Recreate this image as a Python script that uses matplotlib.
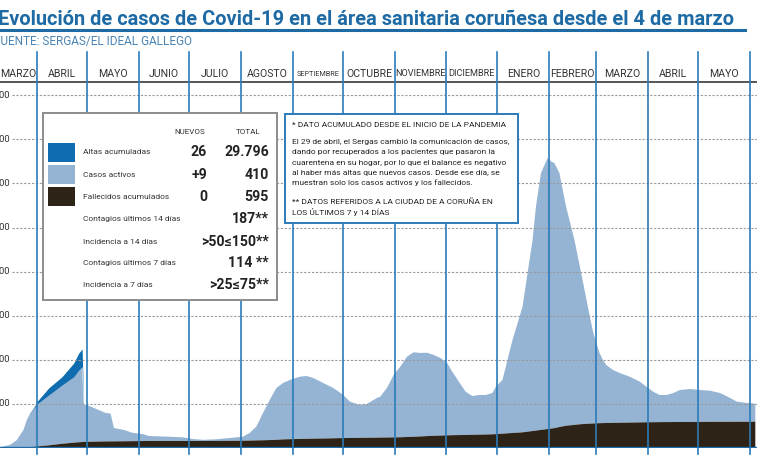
import numpy as np
import pandas as pd
import matplotlib
matplotlib.use("Agg")
import matplotlib.pyplot as plt
from matplotlib import transforms, font_manager
from matplotlib.patches import Rectangle

# ---- data ----
fechas = [
    "2020-03-04", "2020-03-10", "2020-03-16", "2020-03-20", "2020-03-24", "2020-03-26",
    "2020-03-28", "2020-03-30", "2020-04-01", "2020-04-08", "2020-04-16", "2020-04-23",
    "2020-04-26", "2020-04-28", "2020-04-29", "2020-05-01", "2020-05-08", "2020-05-12",
    "2020-05-15", "2020-05-17", "2020-05-23", "2020-05-28", "2020-06-03", "2020-06-07",
    "2020-06-19", "2020-06-27", "2020-07-03", "2020-07-09", "2020-07-17", "2020-07-27",
    "2020-08-02", "2020-08-06", "2020-08-10", "2020-08-14", "2020-08-18", "2020-08-22",
    "2020-08-26", "2020-08-30", "2020-09-05", "2020-09-09", "2020-09-13", "2020-09-19",
    "2020-09-25", "2020-10-01", "2020-10-05", "2020-10-11", "2020-10-15", "2020-10-21",
    "2020-10-23", "2020-10-27", "2020-10-31", "2020-11-04", "2020-11-08", "2020-11-12",
    "2020-11-16", "2020-11-20", "2020-11-24", "2020-11-28", "2020-12-02", "2020-12-05",
    "2020-12-09", "2020-12-13", "2020-12-17", "2020-12-21", "2020-12-25", "2020-12-29",
    "2020-12-31", "2021-01-04", "2021-01-06", "2021-01-08", "2021-01-10", "2021-01-12",
    "2021-01-14", "2021-01-16", "2021-01-19", "2021-01-22", "2021-01-24", "2021-01-27",
    "2021-01-31", "2021-02-02", "2021-02-04", "2021-02-07", "2021-02-11", "2021-02-16",
    "2021-02-20", "2021-02-24", "2021-02-27", "2021-03-01", "2021-03-03", "2021-03-05",
    "2021-03-07", "2021-03-11", "2021-03-15", "2021-03-21", "2021-03-27", "2021-03-31",
    "2021-04-04", "2021-04-08", "2021-04-12", "2021-04-16", "2021-04-20", "2021-04-26",
    "2021-05-02", "2021-05-08", "2021-05-14", "2021-05-20", "2021-05-24", "2021-05-30",
    "2021-06-04",
]
activos = [
    0, 20, 68, 175, 398, 617, 768, 856, 963, 1142, 1334, 1497,
    1639, 1709, 837, 835, 715, 647, 631, 305, 258, 190, 160, 112,
    96, 83, 44, 25, 35, 71, 91, 172, 311, 619, 909, 1176,
    1279, 1342, 1412, 1425, 1376, 1259, 1141, 977, 822, 745, 766, 899,
    927, 1123, 1416, 1601, 1821, 1916, 1893, 1891, 1832, 1759, 1641, 1440,
    1211, 981, 879, 899, 896, 937, 1075, 1217, 1514, 1815, 2110, 2355,
    2600, 2850, 3599, 4332, 5078, 5827, 6147, 6060, 6014, 5762, 4968, 4192,
    3429, 2655, 2095, 1821, 1592, 1431, 1315, 1199, 1128, 1041, 924, 807,
    692, 615, 614, 658, 725, 747, 723, 707, 653, 540, 455, 426,
    410,
]
fallecidos = [
    0, 0, 2, 5, 12, 18, 22, 28, 35, 60, 95, 120,
    130, 135, 138, 140, 145, 148, 149, 150, 152, 155, 158, 160,
    160, 160, 160, 161, 162, 163, 165, 168, 172, 175, 180, 185,
    195, 200, 205, 208, 212, 215, 220, 225, 228, 230, 232, 235,
    236, 238, 240, 243, 250, 255, 262, 270, 277, 282, 287, 290,
    293, 296, 300, 303, 306, 310, 315, 325, 330, 335, 340, 345,
    350, 355, 370, 385, 395, 410, 430, 440, 450, 475, 505, 525,
    540, 550, 555, 560, 563, 565, 567, 570, 573, 576, 580, 583,
    585, 587, 588, 589, 590, 591, 592, 593, 594, 594, 595, 595,
    595,
]
# altas acumuladas: only shown until 29 April 2020 (first 15 dates)
altas = [0, 0, 0, 0, 0, 0, 0, 16, 52, 158, 188, 310, 385, 401, 0]

meses = ["MARZO", "ABRIL", "MAYO", "JUNIO", "JULIO", "AGOSTO", "SEPTIEMBRE",
         "OCTUBRE", "NOVIEMBRE", "DICIEMBRE", "ENERO", "FEBRERO", "MARZO",
         "ABRIL", "MAYO"]
y_ticks = [1000, 2000, 3000, 4000, 5000, 6000, 7000, 8000]
y_labels = ["1.000", "2.000", "3.000", "4.000", "5.000", "6.000", "7.000", "8.000"]

leyenda = ["Altas acumuladas", "Casos activos", "Fallecidos acumulados",
           "Contagios últimos 14 días", "Incidencia a 14 días",
           "Contagios últimos 7 días", "Incidencia a 7 días"]
nuevos = ["26", "+9", "0"]
totales = ["29.796", "410", "595", "187**", ">50≤150**", "114 **", ">25≤75**"]

nota = [
    "* DATO ACUMULADO DESDE EL INICIO DE LA PANDEMIA",
    "El 29 de abril, el Sergas cambió la comunicación de casos,",
    "dando por recuperados a los pacientes que pasaron la",
    "cuarentena en su hogar, por lo que el balance es negativo",
    "al haber más altas que nuevos casos. Desde ese día, se",
    "muestran solo los casos activos y los fallecidos.",
    "** DATOS REFERIDOS A LA CIUDAD DE A CORUÑA EN",
    "LOS ÚLTIMOS 7 y 14 DÍAS",
]

# ---- style ----
C_LIGHT = "#95b4d3"
C_ALTAS = "#0f6cae"
C_FALL = "#2e2317"
C_LINE = "#2b7bb9"
C_TITLE = "#1d6aa5"

names = {f.name for f in font_manager.fontManager.ttflist}
NARROW = "Liberation Sans Narrow" if "Liberation Sans Narrow" in names else "Roboto"
SANS = "Roboto" if "Roboto" in names else "DejaVu Sans"

W, H = 757, 463


def fx(x):
    return x / W


def fy(y):
    return 1 - y / H


fig = plt.figure(figsize=(W / 100, H / 100), dpi=100)
fig.patch.set_facecolor("white")

# plot area: zero line at y=448 px, header line at y=82 px
ax = fig.add_axes([fx(-10), fy(448), (W + 10) / W, (448 - 82) / H])
x = pd.to_datetime(fechas)
ax.set_xlim(pd.Timestamp("2020-03-04"), pd.Timestamp("2021-06-05"))
ax.set_ylim(0, 8300)

fall = np.array(fallecidos)
act = np.array(activos)
ax.fill_between(x, 0, fall, color=C_FALL, lw=0, zorder=2)
ax.fill_between(x, fall, fall + act, color=C_LIGHT, lw=0, zorder=1)
n = len(altas)
base = fall[:n] + act[:n]
ax.fill_between(x[:n], base, base + np.array(altas), color=C_ALTAS, lw=0, zorder=1)

ax.set_xticks([])
ax.set_yticks([])
for s in ["left", "right", "bottom"]:
    ax.spines[s].set_visible(False)
ax.spines["top"].set_color("#555555")
ax.spines["top"].set_linewidth(1.4)

ax.axhline(0, color="#1f6eab", lw=2.4, zorder=5)

# dotted grid + labels that run off the left edge, as in the cropped original
tr_y = transforms.blended_transform_factory(ax.transAxes, ax.transData)
gx0 = 22 / (W + 10)
for v, lab in zip(y_ticks, y_labels):
    ax.axhline(v, xmin=gx0, xmax=1, color="#9a9a9a", lw=0.8, ls=(0, (2, 1.5)), zorder=3)
    ax.text(20 / (W + 10), v, lab, transform=tr_y, ha="right", va="center",
            fontsize=6.8, color="#333333", family=NARROW, clip_on=False)

# month separators, running up through the header row
month_starts = pd.date_range("2020-04-01", "2021-06-01", freq="MS")
h_ax = 448 - 82
for d in month_starts:
    ax.axvline(d, ymin=-6 / h_ax, ymax=(448 - 52) / h_ax, color=C_LINE, lw=1.2,
               clip_on=False, zorder=4)

bounds = [pd.Timestamp("2020-03-10")] + list(month_starts)
tr_m = transforms.blended_transform_factory(ax.transData, fig.transFigure)
for i, m in enumerate(meses):
    c = bounds[i] + (bounds[i + 1] - bounds[i]) / 2
    fs = 7.6
    if m == "SEPTIEMBRE":
        fs = 5.2
    elif m in ("NOVIEMBRE", "DICIEMBRE"):
        fs = 6.6
    ax.text(c, fy(74), m, transform=tr_m, ha="center", va="center",
            fontsize=fs, color="#333333", family=NARROW, clip_on=False)

# ---- title ----
rend = fig.canvas.get_renderer()


def fit(t, width_px):
    w = t.get_window_extent(rend).width
    t.set_fontsize(t.get_fontsize() * width_px / w)


t = fig.text(fx(-2), fy(25), "Evolución de casos de Covid-19 en el área sanitaria coruñesa desde el 4 de marzo",
             ha="left", va="baseline", fontsize=15, weight="bold", color=C_TITLE, family=NARROW)
fit(t, 740)
fig.add_artist(plt.Line2D([0, fx(745)], [fy(30), fy(30)], color=C_TITLE, lw=2.2,
                          transform=fig.transFigure))
t = fig.text(fx(-6), fy(45), "FUENTE: SERGAS/EL IDEAL GALLEGO", ha="left", va="baseline",
             fontsize=8, color="#4a84b4", family=NARROW)
fit(t, 198)

# ---- legend box ----
fig.add_artist(Rectangle((fx(43), fy(300)), fx(277 - 43), (300 - 113) / H,
                         transform=fig.transFigure, facecolor="white",
                         edgecolor="#8c8c8c", lw=1.4, zorder=6))
fig.text(fx(190), fy(132), "NUEVOS", ha="center", va="center", fontsize=5.8,
         color="#333333", family=SANS, zorder=7)
fig.text(fx(248), fy(132), "TOTAL", ha="center", va="center", fontsize=5.8,
         color="#333333", family=SANS, zorder=7)
row_y = [152, 175, 197, 219, 242, 263, 285]
sw = [(143, C_ALTAS), (165, C_LIGHT), (187, C_FALL)]
for (y0, col) in sw:
    fig.add_artist(Rectangle((fx(48), fy(y0 + 19)), fx(27), 19 / H,
                             transform=fig.transFigure, facecolor=col, lw=0, zorder=7))
for i, lab in enumerate(leyenda):
    fig.text(fx(83), fy(row_y[i]), lab, ha="left", va="center", fontsize=6.0,
             color="#333333", family=SANS, zorder=7)
    fig.text(fx(269), fy(row_y[i]), totales[i], ha="right", va="center", fontsize=10.2,
             weight="bold", color="#222222", family=SANS, zorder=7)
for i, v in enumerate(nuevos):
    fig.text(fx(207), fy(row_y[i]), v, ha="right", va="center", fontsize=10.2,
             weight="bold", color="#222222", family=SANS, zorder=7)

# ---- note box ----
fig.add_artist(Rectangle((fx(285), fy(223)), fx(518 - 285), (223 - 114) / H,
                         transform=fig.transFigure, facecolor="white",
                         edgecolor=C_LINE, lw=1.4, zorder=6))
nota_y = [125, 142, 152, 163, 173, 183, 202, 212]
for yy, line in zip(nota_y, nota):
    fig.text(fx(292), fy(yy), line, ha="left", va="center", fontsize=6.05,
             color="#222222", family=SANS, zorder=7)

fig.savefig("out.png", dpi=100)
